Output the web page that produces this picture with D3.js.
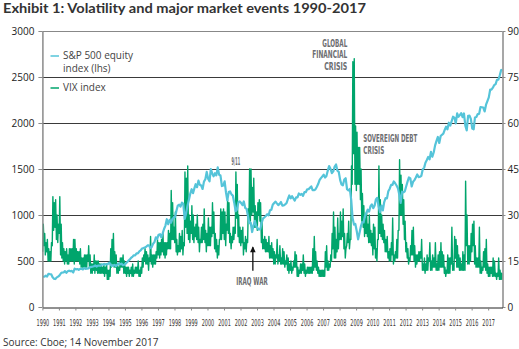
<!DOCTYPE html>
<html>
<head>
<meta charset="utf-8">
<script src="https://cdn.jsdelivr.net/npm/d3@7"></script>
<style>
  body { margin: 0; background: #fff; }
  svg { display: block; }
</style>
</head>
<body>
<svg id="chart" width="519" height="349"></svg>
<script>
// S&P 500 monthly closes, Jan 1990 - Nov 2017 (lhs)
const spx = [
  329, 331, 340, 331, 361, 358, 356, 323, 306, 304, 322, 330,
  344, 367, 375, 375, 390, 371, 388, 395, 388, 392, 375, 417,
  409, 413, 404, 415, 415, 408, 424, 414, 418, 419, 431, 436,
  439, 443, 452, 440, 450, 451, 448, 464, 459, 468, 462, 466,
  482, 467, 446, 451, 457, 444, 458, 475, 463, 472, 454, 459,
  470, 487, 501, 515, 533, 545, 562, 562, 584, 582, 605, 616,
  636, 640, 646, 654, 669, 671, 640, 652, 687, 705, 757, 741,
  786, 791, 757, 801, 848, 885, 954, 899, 947, 915, 955, 970,
  980, 1049, 1102, 1112, 1091, 1134, 1121, 957, 1017, 1099, 1164, 1229,
  1280, 1238, 1286, 1335, 1302, 1373, 1329, 1320, 1283, 1363, 1389, 1469,
  1394, 1366, 1499, 1452, 1421, 1455, 1431, 1518, 1437, 1429, 1315, 1320,
  1366, 1240, 1160, 1249, 1256, 1224, 1211, 1134, 1041, 1060, 1139, 1148,
  1130, 1107, 1147, 1077, 1067, 990, 912, 916, 815, 886, 936, 880,
  856, 841, 848, 917, 964, 975, 990, 1008, 996, 1051, 1058, 1112,
  1131, 1145, 1126, 1107, 1121, 1141, 1102, 1104, 1115, 1130, 1174, 1212,
  1181, 1204, 1181, 1157, 1192, 1191, 1234, 1220, 1229, 1207, 1249, 1248,
  1280, 1281, 1295, 1311, 1270, 1270, 1277, 1304, 1336, 1378, 1401, 1418,
  1438, 1407, 1421, 1482, 1531, 1503, 1455, 1474, 1527, 1549, 1481, 1468,
  1379, 1331, 1323, 1386, 1400, 1280, 1267, 1283, 1165, 969, 896, 903,
  826, 735, 798, 873, 919, 919, 987, 1021, 1057, 1036, 1096, 1115,
  1074, 1104, 1169, 1187, 1089, 1031, 1102, 1049, 1141, 1183, 1181, 1258,
  1286, 1327, 1326, 1364, 1345, 1321, 1292, 1219, 1131, 1253, 1247, 1258,
  1312, 1366, 1408, 1398, 1310, 1362, 1379, 1407, 1441, 1412, 1416, 1426,
  1498, 1515, 1569, 1598, 1631, 1606, 1686, 1633, 1682, 1757, 1806, 1848,
  1783, 1859, 1872, 1884, 1924, 1960, 1931, 2003, 1972, 2018, 2068, 2059,
  1995, 2105, 2068, 2086, 2107, 2063, 2104, 1972, 1920, 2079, 2080, 2044,
  1940, 1932, 2060, 2065, 2097, 2099, 2174, 2171, 2168, 2126, 2199, 2239,
  2279, 2364, 2363, 2384, 2412, 2423, 2470, 2472, 2519, 2575, 2579
];

// VIX monthly high / low, Jan 1990 - Nov 2017 (rhs)
const vixHi = [
  27, 24, 21, 22, 19, 18, 21, 36, 34, 35, 30, 27,
  36, 27, 21, 19, 18, 19, 17, 19, 19, 19, 22, 22,
  19, 18, 18, 19, 16, 16, 17, 17, 17, 20, 17, 14,
  14, 17, 15, 15, 15, 14, 14, 13, 14, 13, 14, 12,
  12, 19, 22, 24, 18, 17, 14, 13, 16, 16, 17, 15,
  13, 13, 13, 12, 13, 14, 12, 13, 13, 15, 12, 13,
  16, 17, 19, 18, 17, 16, 23, 17, 17, 17, 18, 22,
  21, 21, 22, 24, 21, 21, 21, 25, 24, 38, 34, 26,
  31, 22, 20, 24, 23, 25, 21, 44, 42, 46, 30, 28,
  33, 30, 26, 27, 30, 26, 22, 26, 27, 32, 25, 24,
  29, 26, 26, 34, 31, 24, 22, 20, 22, 32, 31, 32,
  31, 27, 35, 34, 24, 23, 26, 26, 44, 40, 30, 26,
  25, 26, 21, 23, 22, 32, 45, 45, 39, 42, 33, 31,
  34, 35, 34, 28, 22, 23, 22, 21, 23, 20, 21, 19,
  18, 17, 22, 17, 20, 16, 19, 18, 15, 17, 16, 14,
  15, 13, 15, 18, 17, 13, 12, 14, 14, 17, 14, 12,
  13, 13, 13, 13, 19, 23, 18, 15, 13, 12, 12, 12,
  12, 18, 20, 15, 14, 17, 24, 31, 26, 22, 29, 24,
  31, 28, 32, 24, 19, 24, 28, 22, 46, 80, 81, 59,
  57, 52, 52, 45, 37, 33, 29, 31, 27, 30, 25, 24,
  27, 26, 19, 22, 46, 35, 30, 27, 25, 22, 23, 18,
  19, 21, 29, 17, 18, 22, 25, 48, 43, 40, 35, 28,
  21, 19, 16, 20, 25, 26, 20, 17, 17, 18, 18, 22,
  14, 16, 14, 17, 16, 21, 15, 17, 16, 21, 14, 17,
  18, 21, 18, 17, 13, 12, 17, 16, 16, 26, 14, 23,
  22, 20, 17, 16, 14, 18, 17, 41, 30, 20, 20, 24,
  27, 28, 20, 16, 16, 26, 15, 13, 18, 19, 22, 14,
  13, 13, 13, 16, 15, 11, 11, 16, 12, 11, 11
];
const vixLo = [
  18, 20, 17, 18, 15, 15, 15, 20, 25, 26, 22, 21,
  24, 17, 16, 15, 14, 15, 14, 14, 15, 15, 15, 14,
  15, 15, 15, 14, 13, 13, 13, 13, 13, 15, 13, 11,
  11, 12, 11, 12, 11, 11, 11, 11, 11, 10, 11, 9,
  9, 10, 13, 14, 13, 13, 11, 11, 12, 13, 13, 11,
  11, 10, 11, 10, 11, 10, 10, 11, 11, 11, 10, 10,
  11, 13, 15, 14, 14, 12, 15, 14, 13, 14, 14, 16,
  17, 16, 17, 18, 17, 16, 17, 19, 19, 19, 22, 22,
  21, 18, 17, 18, 18, 19, 17, 20, 26, 24, 22, 21,
  24, 22, 21, 23, 22, 21, 18, 21, 21, 22, 21, 18,
  20, 20, 20, 23, 24, 19, 18, 16, 17, 22, 22, 24,
  22, 20, 25, 24, 21, 19, 21, 22, 24, 29, 23, 21,
  20, 21, 17, 19, 18, 21, 28, 28, 30, 31, 26, 26,
  25, 30, 28, 21, 19, 19, 18, 18, 18, 16, 16, 16,
  14, 14, 16, 14, 15, 14, 14, 14, 13, 14, 12, 11,
  12, 11, 12, 13, 13, 10, 10, 11, 11, 12, 11, 10,
  11, 11, 11, 11, 11, 12, 13, 12, 11, 10, 10, 10,
  10, 10, 13, 12, 12, 13, 15, 19, 16, 16, 18, 19,
  22, 22, 23, 19, 16, 20, 21, 19, 22, 40, 50, 40,
  38, 40, 40, 35, 28, 26, 23, 24, 23, 21, 21, 20,
  17, 19, 16, 15, 22, 24, 23, 22, 21, 18, 18, 16,
  15, 15, 17, 14, 15, 16, 16, 25, 30, 30, 27, 22,
  18, 16, 14, 15, 17, 17, 15, 13, 14, 15, 15, 16,
  12, 12, 11, 12, 12, 15, 12, 12, 13, 13, 12, 12,
  12, 13, 13, 13, 11, 10, 11, 11, 11, 14, 12, 12,
  16, 13, 13, 12, 12, 12, 12, 12, 20, 14, 14, 15,
  18, 20, 14, 13, 13, 13, 11, 11, 12, 13, 12, 11,
  10, 10, 11, 10, 10, 10, 9, 10, 9, 9, 9
];

const leftTicks = [0, 500, 1000, 1500, 2000, 2500, 3000];
const rightTicks = [0, 15, 30, 45, 60, 75, 90];
const seriesNames = ["S&P 500 equity|index (lhs)", "VIX index"];
const colors = { spx: "#55c4d9", vix: "#00a56c" };

const svg = d3.select("#chart");
const x = d3.scaleTime()
  .domain([new Date(1990, 0, 1), new Date(2017, 10, 14)])
  .range([42.4, 502.5]);
const yL = d3.scaleLinear().domain([0, 3000]).range([307, 31]);
const yR = d3.scaleLinear().domain([0, 90]).range([307, 31]);

const fontUI = "'Open Sans', 'Noto Sans', sans-serif";
const fontNarrow = "'Liberation Sans Narrow', 'DejaVu Sans Condensed', sans-serif";

// title + source
svg.append("text")
  .attr("x", 3).attr("y", 13)
  .attr("font-family", "Lato, 'Open Sans', sans-serif")
  .attr("font-weight", "bold")
  .attr("font-size", 13.5)
  .attr("fill", "#333")
  .attr("textLength", 363).attr("lengthAdjust", "spacingAndGlyphs")
  .text("Exhibit 1: Volatility and major market events 1990-2017");

svg.append("text")
  .attr("x", 3).attr("y", 346)
  .attr("font-family", fontUI)
  .attr("font-size", 10)
  .attr("fill", "#333")
  .text("Source: Cboe; 14 November 2017");

// gridlines
svg.append("g")
  .selectAll("line")
  .data(leftTicks.slice(1))
  .join("line")
  .attr("x1", x.range()[0]).attr("x2", x.range()[1])
  .attr("y1", d => yL(d) + 0.5).attr("y2", d => yL(d) + 0.5)
  .attr("stroke", d => d === 3000 ? "#888" : "#3a3a3a")
  .attr("stroke-width", 1);

// clip
svg.append("clipPath").attr("id", "plot")
  .append("rect")
  .attr("x", x.range()[0]).attr("y", 31)
  .attr("width", x.range()[1] - x.range()[0]).attr("height", 276);

// VIX: monthly low then high
const vixPts = [];
vixHi.forEach((h, i) => {
  vixPts.push({ date: new Date(1990, i, 7), v: vixLo[i] });
  vixPts.push({ date: new Date(1990, i, 21), v: h });
});
const spxPts = spx.map((v, i) => ({ date: new Date(1990, i, 15), v }));

svg.append("path")
  .datum(vixPts)
  .attr("clip-path", "url(#plot)")
  .attr("fill", "none")
  .attr("stroke", colors.vix)
  .attr("stroke-width", 1.4)
  .attr("stroke-linejoin", "round")
  .attr("d", d3.line().x(d => x(d.date)).y(d => yR(d.v)));

svg.append("path")
  .datum(spxPts)
  .attr("clip-path", "url(#plot)")
  .attr("fill", "none")
  .attr("stroke", colors.spx)
  .attr("stroke-width", 2.2)
  .attr("stroke-linejoin", "round")
  .attr("d", d3.line().x(d => x(d.date)).y(d => yL(d.v)));

// axes
const axL = svg.append("g")
  .attr("transform", `translate(${x.range()[0]},0)`)
  .call(d3.axisLeft(yL).tickValues(leftTicks).tickFormat(d3.format("d"))
    .tickSize(4).tickPadding(4).tickSizeOuter(0));
const axR = svg.append("g")
  .attr("transform", `translate(${x.range()[1]},0)`)
  .call(d3.axisRight(yR).tickValues(rightTicks).tickFormat(d3.format("d"))
    .tickSize(3).tickPadding(2).tickSizeOuter(0));
[axL, axR].forEach(g => {
  g.select(".domain").attr("stroke", "#8a8a8a").attr("stroke-width", 1.5);
  g.selectAll(".tick line").attr("stroke", "#8a8a8a");
  g.selectAll(".tick text")
    .attr("font-family", fontUI).attr("font-size", 10).attr("fill", "#222");
});

const axB = svg.append("g")
  .attr("transform", `translate(0,${yL(0) + 0.5})`)
  .call(d3.axisBottom(x)
    .ticks(d3.timeYear.every(1))
    .tickFormat(d3.timeFormat("%Y"))
    .tickSize(3).tickPadding(9).tickSizeOuter(0));
axB.select(".domain").attr("stroke", "#222").attr("stroke-width", 1);
axB.selectAll(".tick line").attr("stroke", "#888");
axB.selectAll(".tick text")
  .attr("font-family", fontNarrow).attr("font-size", 9.5)
  .attr("fill", "#3a3330")
  .attr("transform", "scale(0.58,1)");

// legend
const legend = svg.append("g").attr("font-family", fontUI).attr("font-size", 10).attr("fill", "#444");
const legendRows = [
  { key: "spx", lines: seriesNames[0].split("|"), y: 59 },
  { key: "vix", lines: seriesNames[1].split("|"), y: 91 }
];
legendRows.forEach(r => {
  legend.append("line")
    .attr("x1", 50.5).attr("x2", 59).attr("y1", r.y - 3).attr("y2", r.y - 3)
    .attr("stroke", colors[r.key]).attr("stroke-width", 1.5);
  r.lines.forEach((t, i) => {
    legend.append("text").attr("x", 63).attr("y", r.y + i * 12.5).text(t);
  });
});

// event annotations
const ann = svg.append("g")
  .attr("font-family", fontNarrow).attr("font-weight", "bold")
  .attr("font-size", 10.5).attr("fill", "#6d6e71");
const notes = [
  { lines: ["GLOBAL", "FINANCIAL", "CRISIS"], widths: [25, 35, 23], date: new Date(2008, 5, 20), v: 84.8, anchor: "end" },
  { lines: ["SOVEREIGN DEBT", "CRISIS"], widths: [54, 21], date: new Date(2009, 5, 10), v: 53.8, anchor: "start" },
  { lines: ["9/11"], widths: [8.5], date: new Date(2001, 8, 20), v: 46.3, anchor: "middle" },
  { lines: ["IRAQ WAR"], widths: [31.5], date: new Date(2002, 8, 10), v: 7.2, anchor: "middle" }
];
notes.forEach(n => {
  n.lines.forEach((t, i) => {
    ann.append("text")
      .attr("x", x(n.date)).attr("y", yR(n.v) + i * 11.5)
      .attr("text-anchor", n.anchor)
      .attr("textLength", n.widths[i]).attr("lengthAdjust", "spacingAndGlyphs")
      .text(t);
  });
});

// arrow for Iraq war
const ax = x(new Date(2002, 9, 1));
svg.append("line")
  .attr("x1", ax).attr("x2", ax)
  .attr("y1", yR(11.8)).attr("y2", yR(19.5))
  .attr("stroke", "#111").attr("stroke-width", 1.3);
svg.append("path")
  .attr("d", `M${ax - 2.8},${yR(19.5) + 5} L${ax},${yR(19.5) - 1} L${ax + 2.8},${yR(19.5) + 5} Z`)
  .attr("fill", "#111");
</script>
</body>
</html>
